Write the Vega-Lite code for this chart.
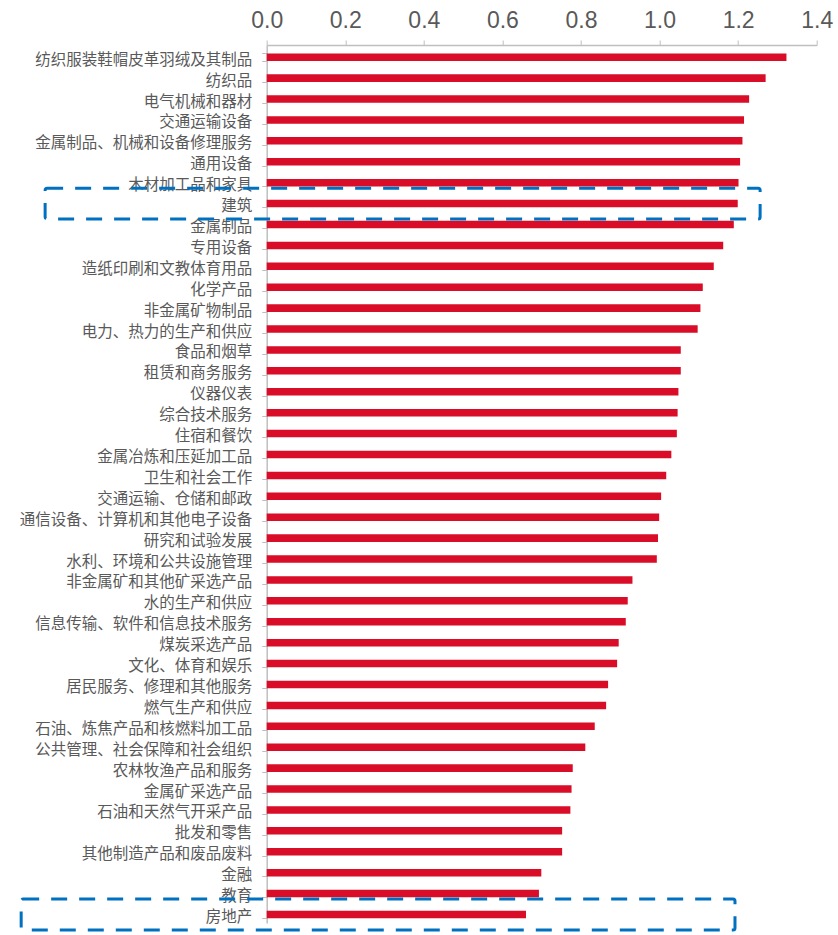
{
  "$schema": "https://vega.github.io/schema/vega-lite/v6.json",
  "width": 550,
  "height": 878,
  "autosize": {"type": "none"},
  "padding": {"left": 266.7, "top": 45, "right": 21.3, "bottom": 12},
  "background": "white",
  "config": {"view": {"stroke": null}},
  "datasets": {
    "bars": [
      {"category": "纺织服装鞋帽皮革羽绒及其制品", "value": 1.323},
      {"category": "纺织品", "value": 1.270},
      {"category": "电气机械和器材", "value": 1.228},
      {"category": "交通运输设备", "value": 1.215},
      {"category": "金属制品、机械和设备修理服务", "value": 1.211},
      {"category": "通用设备", "value": 1.205},
      {"category": "木材加工品和家具", "value": 1.201},
      {"category": "建筑", "value": 1.199},
      {"category": "金属制品", "value": 1.189},
      {"category": "专用设备", "value": 1.162},
      {"category": "造纸印刷和文教体育用品", "value": 1.138},
      {"category": "化学产品", "value": 1.110},
      {"category": "非金属矿物制品", "value": 1.104},
      {"category": "电力、热力的生产和供应", "value": 1.097},
      {"category": "食品和烟草", "value": 1.054},
      {"category": "租赁和商务服务", "value": 1.054},
      {"category": "仪器仪表", "value": 1.048},
      {"category": "综合技术服务", "value": 1.046},
      {"category": "住宿和餐饮", "value": 1.044},
      {"category": "金属冶炼和压延加工品", "value": 1.030},
      {"category": "卫生和社会工作", "value": 1.017},
      {"category": "交通运输、仓储和邮政", "value": 1.004},
      {"category": "通信设备、计算机和其他电子设备", "value": 0.999},
      {"category": "研究和试验发展", "value": 0.996},
      {"category": "水利、环境和公共设施管理", "value": 0.993},
      {"category": "非金属矿和其他矿采选产品", "value": 0.931},
      {"category": "水的生产和供应", "value": 0.919},
      {"category": "信息传输、软件和信息技术服务", "value": 0.914},
      {"category": "煤炭采选产品", "value": 0.896},
      {"category": "文化、体育和娱乐", "value": 0.892},
      {"category": "居民服务、修理和其他服务", "value": 0.869},
      {"category": "燃气生产和供应", "value": 0.864},
      {"category": "石油、炼焦产品和核燃料加工品", "value": 0.835},
      {"category": "公共管理、社会保障和社会组织", "value": 0.811},
      {"category": "农林牧渔产品和服务", "value": 0.779},
      {"category": "金属矿采选产品", "value": 0.776},
      {"category": "石油和天然气开采产品", "value": 0.773},
      {"category": "批发和零售", "value": 0.752},
      {"category": "其他制造产品和废品废料", "value": 0.752},
      {"category": "金融", "value": 0.699},
      {"category": "教育", "value": 0.693},
      {"category": "房地产", "value": 0.660}
    ],
    "boxes": [
      {"category": "建筑", "start": -0.564, "end": 1.256},
      {"category": "房地产", "start": -0.625, "end": 1.192}
    ]
  },
  "layer": [
    {
      "data": {"name": "bars"},
      "mark": {"type": "bar", "color": "#D90D27"},
      "encoding": {
        "y": {
          "field": "category",
          "type": "nominal",
          "sort": null,
          "scale": {"paddingInner": 0.64, "paddingOuter": 0.316, "align": 0.64},
          "axis": {
            "title": null,
            "labelFont": "Noto Sans CJK SC",
            "labelFontSize": 15.5,
            "labelColor": "#595959",
            "labelLimit": 400,
            "labelPadding": 10,
            "labelOffset": 2,
            "tickBand": "extent",
            "tickSize": 5,
            "tickColor": "#BFBFBF",
            "domainColor": "#BFBFBF",
            "domainWidth": 1.5,
            "grid": false
          }
        },
        "x": {
          "field": "value",
          "type": "quantitative",
          "scale": {"domain": [0, 1.4], "nice": false},
          "axis": {
            "orient": "top",
            "title": null,
            "values": [0, 0.2, 0.4, 0.6, 0.8, 1.0, 1.2, 1.4],
            "format": ".1f",
            "labelFont": "Liberation Sans",
            "labelFontSize": 23,
            "labelColor": "#595959",
            "labelPadding": 8,
            "labelFlush": false,
            "labelOverlap": false,
            "tickSize": 5,
            "tickColor": "#BFBFBF",
            "domainColor": "#BFBFBF",
            "domainWidth": 1.5,
            "grid": false
          }
        }
      }
    },
    {
      "data": {"name": "boxes"},
      "mark": {
        "type": "rect",
        "height": {"band": 4.1},
        "fill": "transparent",
        "stroke": "#0070C0",
        "strokeWidth": 3,
        "strokeDash": [16, 12],
        "cornerRadius": 2,
        "clip": false
      },
      "encoding": {
        "y": {"field": "category", "type": "nominal", "sort": null},
        "x": {"field": "start", "type": "quantitative"},
        "x2": {"field": "end"}
      }
    }
  ]
}
